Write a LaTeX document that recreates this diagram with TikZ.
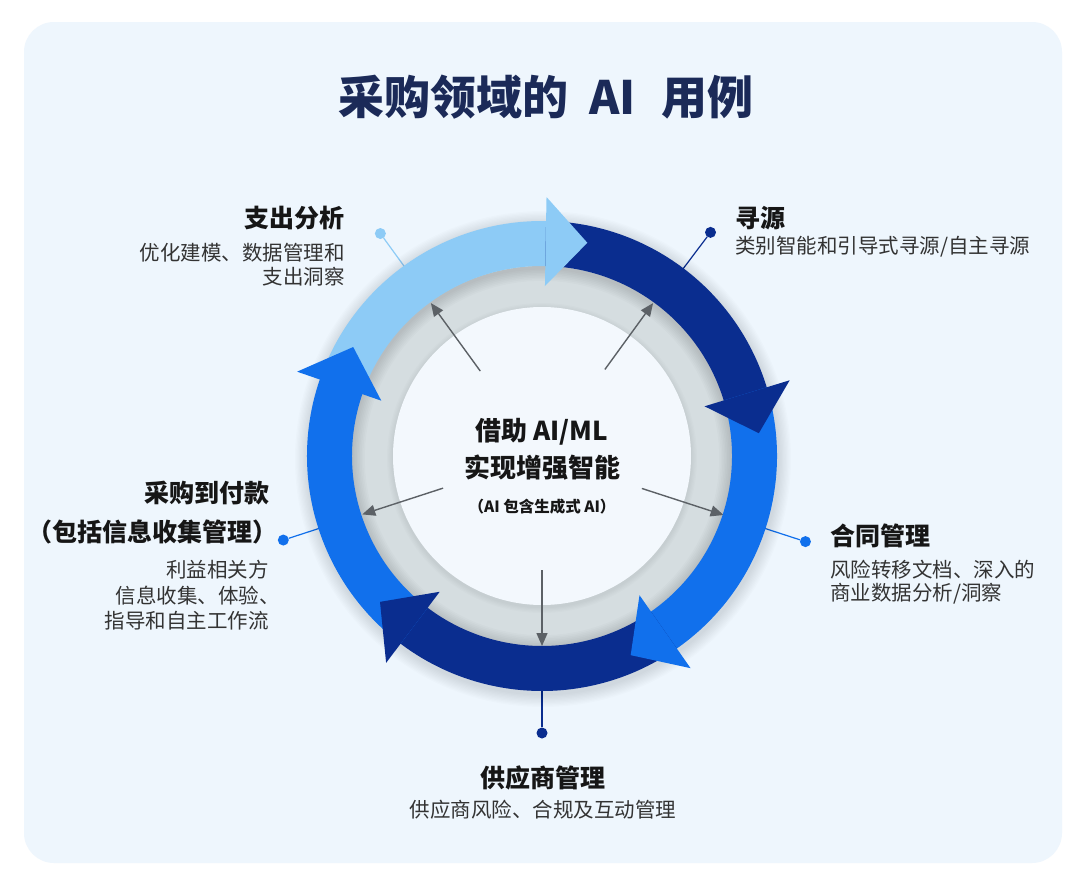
\documentclass[tikz,border=0pt]{standalone}
\usepackage{fontspec}
\setmainfont{Noto Sans CJK SC}
\usetikzlibrary{arrows.meta}
\definecolor{panel}{HTML}{EEF6FD}
\definecolor{innerc}{HTML}{F3F8FD}
\definecolor{lb}{HTML}{8DCBF6}
\definecolor{nv}{HTML}{0A2D8F}
\definecolor{bb}{HTML}{1170EC}
\definecolor{ringgray}{HTML}{D5DDE0}
\definecolor{arrowgray}{HTML}{5C6166}
\definecolor{titlec}{HTML}{1B2A58}
\definecolor{txt}{HTML}{161616}
\definecolor{desc}{HTML}{333333}
\newcommand\ringbody[2]{\fill[#1] (#2+72:235) arc[start angle=#2+72, end angle=#2-2, radius=235] -- (#2-2:190) arc[start angle=#2-2, end angle=#2+72, radius=190] -- cycle;}
\newcommand\ringhead[2]{\fill[#1] (#2:259) -- (#2-11:218) -- (#2:170) -- cycle;}
\begin{document}
\begin{tikzpicture}[x=1pt,y=1pt,
  lbl/.style={font=\fontsize{25}{30}\selectfont\bfseries, text=txt, inner sep=0pt},
  dsc/.style={font=\fontsize{20.5}{25}\selectfont, text=desc, inner sep=0pt},
  ctr/.style={font=\fontsize{26}{30}\selectfont\bfseries, text=txt, inner sep=0pt},
  ptr/.style={draw=arrowgray, line width=1.4pt, -{Triangle[length=13pt,width=11pt]}},
  lead/.style={line width=1.2pt},
  dotmark/.style={circle, inner sep=0pt, minimum size=11pt},
]
\useasboundingbox (0,0) rectangle (1080,-894);
\fill[white] (0,0) rectangle (1080,-894);
\fill[panel, rounded corners=30pt] (24,-22) rectangle (1062,-863);
\node[font=\fontsize{46}{54}\selectfont\bfseries, text=titlec, inner sep=0pt] (title) at (546,-97) {采购领域的\hspace{0.45em}AI\hspace{0.55em}用例};

\begin{scope}[shift={(542,-456)}]
  % leader lines and dots
  \node[dotmark, fill=lb] (d1) at (126:275) {};
  \coordinate (e1) at (126:228);
  \draw[lead, lb] (d1) -- (e1);
  \node[dotmark, fill=nv] (d2) at (53:280) {};
  \coordinate (e2) at (53:228);
  \draw[lead, nv] (d2) -- (e2);
  \node[dotmark, fill=bb] (d3) at (-18:277) {};
  \coordinate (e3) at (-18:228);
  \draw[lead, bb] (d3) -- (e3);
  \node[dotmark, fill=nv] (d4) at (-90:277) {};
  \coordinate (e4) at (-90:228);
  \draw[lead, nv] (d4) -- (e4);
  \node[dotmark, fill=bb] (d5) at (198:272) {};
  \coordinate (e5) at (198:228);
  \draw[lead, bb] (d5) -- (e5);

  % soft shadow of the ring
  \foreach \k in {1,...,10} \fill[black, opacity=0.012] (1,-3) circle[radius=235+\k*1.3];
  % gray ring
  \fill[ringgray] (0,0) circle[radius=192];
  \foreach \k in {1,...,8} \fill[black, opacity=0.014, even odd rule] (0,-2) circle[radius=192] (0,-2) circle[radius=190-\k*1.6];
  \foreach \k in {1,...,5} \fill[black, opacity=0.012] (0,-2) circle[radius=149+\k*1.2];
  \fill[innerc] (0,0) circle[radius=149];

  % pointers from the centre
  \coordinate (s1) at (126:105); \coordinate (t1) at (126:189);
  \coordinate (s2) at (54:107);  \coordinate (t2) at (54:189);
  \coordinate (s3) at (-18:105); \coordinate (t3) at (-18:191);
  \coordinate (s4) at (-90:114); \coordinate (t4) at (-90:190);
  \coordinate (s5) at (198:104); \coordinate (t5) at (198:189);
  \foreach \i in {1,...,5} \draw[ptr] (s\i) -- (t\i);

  % ring segments
  \ringbody{lb}{89}
  \ringbody{nv}{17}
  \ringbody{bb}{-55}
  \ringbody{nv}{-127}
  \ringbody{bb}{-199}
  \ringhead{lb}{89}
  \ringhead{nv}{17}
  \ringhead{bb}{-55}
  \ringhead{nv}{-127}
  \ringhead{bb}{-199}
\end{scope}

% centre text
\node[ctr] (c1) at (542,-432) {借助 AI/ML};
\node[ctr] (c2) at (542,-468) {实现增强智能};
\node[font=\fontsize{15.5}{18}\selectfont\bfseries, text=txt, inner sep=0pt] (c3) at (542,-507) {（AI 包含生成式 AI）};

% labels
\node[lbl, anchor=east] (l1t) at (345,-218) {支出分析};
\node[dsc, anchor=east] (l1a) at (345,-253) {优化建模、数据管理和};
\node[dsc, anchor=east] (l1b) at (345,-277) {支出洞察};

\node[lbl, anchor=west] (l2t) at (735,-218) {寻源};
\node[dsc, anchor=west] (l2a) at (735,-247) {类别智能和引导式寻源/自主寻源};

\node[lbl, anchor=west] (l3t) at (830,-536) {合同管理};
\node[dsc, anchor=west] (l3a) at (830,-570) {风险转移文档、深入的};
\node[dsc, anchor=west] (l3b) at (830,-594) {商业数据分析/洞察};

\node[lbl] (l4t) at (543,-778) {供应商管理};
\node[dsc] (l4a) at (543,-810) {供应商风险、合规及互动管理};

\node[lbl, anchor=east] (l5t) at (270,-493) {采购到付款};
\node[lbl, anchor=east] (l5u) at (278,-532) {（包括信息收集管理）};
\node[dsc, anchor=east] (l5a) at (269,-570) {利益相关方};
\node[dsc, anchor=east] (l5b) at (280,-596) {信息收集、体验、};
\node[dsc, anchor=east] (l5c) at (269,-621) {指导和自主工作流};
\end{tikzpicture}
\end{document}
